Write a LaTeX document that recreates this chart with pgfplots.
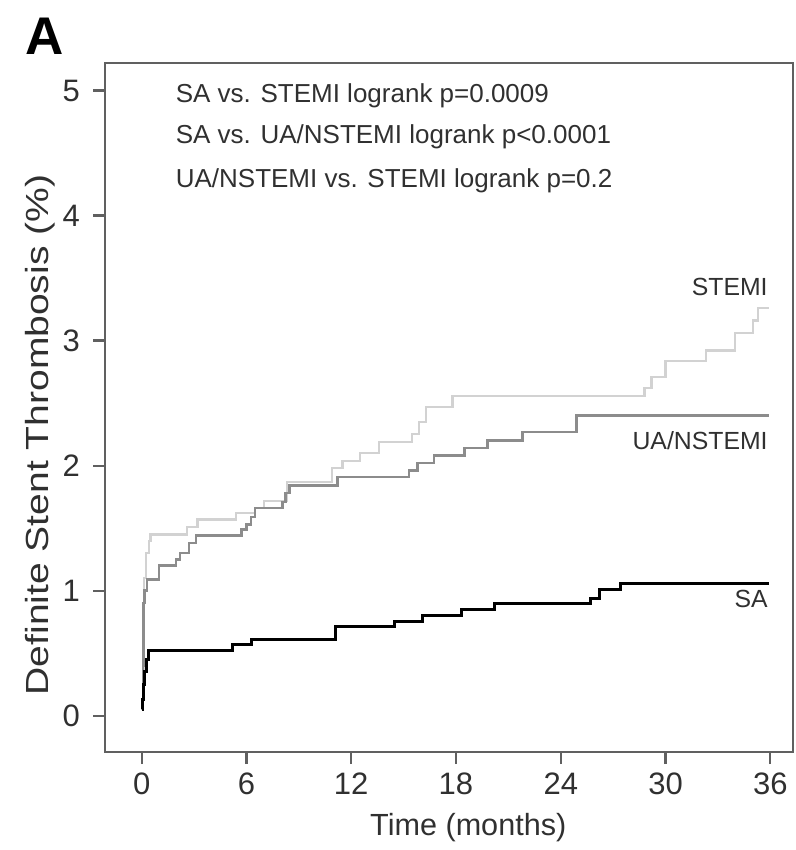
\documentclass[border=0pt]{standalone}
\usepackage{pgfplots}
\pgfplotsset{compat=1.18}
\usepackage{fontspec}
\setmainfont{Liberation Sans}
\definecolor{stemi}{HTML}{D2D2D2}
\definecolor{ua}{HTML}{8C8C8C}
\definecolor{axgray}{HTML}{606060}
\definecolor{txt}{HTML}{303030}
\begin{document}
\begin{tikzpicture}
\begin{axis}[
  scale only axis,
  width=344pt, height=344.5pt,
  xmin=-2.1, xmax=37.3,
  ymin=-0.29, ymax=5.22,
  xtick={0,6,12,18,24,30,36},
  ytick={0,1,2,3,4,5},
  tick align=outside,
  tick pos=left,
  major tick length=6pt,
  axis line style={axgray, line width=1.2pt},
  every tick/.style={axgray, line width=1.1pt},
  /pgf/number format/assume math mode=true,
  tick label style={font=\fontsize{15.5}{17}\selectfont, text=txt},
  xticklabel style={yshift=-1pt},
  yticklabel style={xshift=-3pt},
  xlabel={Time (months)},
  xlabel style={font=\fontsize{15.3}{17}\selectfont, text=txt, at={(axis description cs:0.528,-0.11)}, anchor=center},
  ylabel={\scalebox{1.22}[1]{Definite Stent Thrombosis (\%)}},
  ylabel style={font=\fontsize{16}{18}\selectfont, text=txt, at={(axis description cs:-0.094,0.46)}, anchor=center, rotate=0},
  clip=false,
]
% STEMI
\addplot[const plot, color=stemi, line width=1.1pt] coordinates {
(0.03,0.05) (0.06,0.3) (0.1,0.8) (0.15,1.1) (0.25,1.3) (0.4,1.40) (0.5,1.45)
(2.6,1.51) (3.2,1.57) (5.4,1.62) (6.5,1.66) (7.0,1.72) (8.3,1.87)
(10.9,1.98) (11.5,2.04) (12.5,2.10) (13.6,2.19) (15.5,2.25) (15.9,2.35)
(16.3,2.47) (17.8,2.56) (28.8,2.62) (29.2,2.71) (30.0,2.84) (32.3,2.92)
(34.0,3.06) (35.0,3.16) (35.3,3.26) (35.9,3.26)
};
% UA/NSTEMI
\addplot[const plot, color=ua, line width=1.3pt] coordinates {
(0.05,0.1) (0.08,0.4) (0.1,0.7) (0.12,0.9) (0.15,1.0) (0.3,1.09)
(1.0,1.20) (1.96,1.25) (2.2,1.30) (2.7,1.38) (3.1,1.44) (5.7,1.49)
(6.0,1.53) (6.25,1.59) (6.5,1.66) (8.05,1.71) (8.25,1.78) (8.45,1.84)
(11.2,1.91) (15.3,1.96) (15.8,2.02) (16.75,2.08) (18.5,2.14) (19.8,2.20)
(21.8,2.27) (24.9,2.40) (35.9,2.40)
};
% SA
\addplot[const plot, color=black, line width=1.5pt] coordinates {
(0.02,0.05) (0.05,0.13) (0.1,0.25) (0.15,0.35) (0.25,0.45) (0.4,0.52)
(5.2,0.57) (6.3,0.61) (11.1,0.71) (14.5,0.75) (16.1,0.80) (18.3,0.85)
(20.2,0.90) (25.7,0.94) (26.2,1.01) (27.4,1.06) (35.9,1.06)
};
\node[anchor=west, font=\fontsize{13}{15}\selectfont, text=txt] at (axis cs:1.55,4.96) {SA vs. STEMI logrank p=0.0009};
\node[anchor=west, font=\fontsize{13}{15}\selectfont, text=txt] at (axis cs:1.55,4.63) {SA vs. UA/NSTEMI logrank p<0.0001};
\node[anchor=west, font=\fontsize{13}{15}\selectfont, text=txt] at (axis cs:1.55,4.28) {UA/NSTEMI vs. STEMI logrank p=0.2};
\node[anchor=east, font=\fontsize{12.4}{14}\selectfont, text=txt] at (axis cs:36.25,3.43) {STEMI};
\node[anchor=east, font=\fontsize{12.4}{14}\selectfont, text=txt] at (axis cs:36.25,2.20) {UA/NSTEMI};
\node[anchor=east, font=\fontsize{12.4}{14}\selectfont, text=txt] at (axis cs:36.25,0.93) {SA};
\coordinate (sw) at (rel axis cs:0,0);
\coordinate (ne) at (rel axis cs:1,1);
\end{axis}
\node[anchor=north west, inner sep=0pt, font=\fontsize{26.5}{28}\selectfont\bfseries] at ([shift={(-40pt,22.5pt)}]ne -| sw) {A};
\pgfresetboundingbox
\path[use as bounding box] ([shift={(-52.5pt,-49pt)}]sw) rectangle ([shift={(1.5pt,31.5pt)}]ne);
\end{tikzpicture}
\end{document}
